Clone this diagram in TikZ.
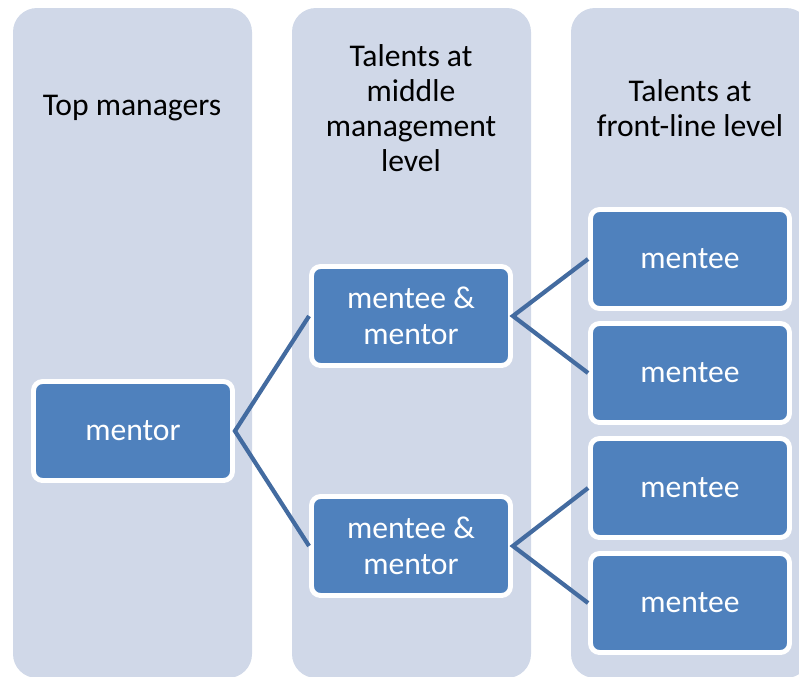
\documentclass[tikz,border=0pt]{standalone}
\usepackage{fontspec}
\setmainfont{Carlito}
\usepackage{tikz}
\usetikzlibrary{positioning}
\definecolor{colbg}{RGB}{208,216,232}
\definecolor{boxblue}{RGB}{79,129,189}
\definecolor{linkblue}{RGB}{67,107,160}

\begin{document}
\begin{tikzpicture}[x=0.02cm,y=-0.02cm,
                    column/.style={fill=colbg, rounded corners=0.48cm},
                    title/.style={align=center, text=black, font=\fontsize{18}{20}\selectfont},
                    box/.style={draw=white, line width=2.8pt, fill=boxblue, rounded corners=0.18cm,
                                minimum width=3.98cm, minimum height=1.98cm, inner sep=0pt,
                                align=center, text=white, font=\fontsize{18}{20.5}\selectfont},
                    link/.style={linkblue, line width=2.4pt},
                   ]

\useasboundingbox (0,0) rectangle (799,677);

% columns
\fill[column] (13,8) rectangle (252,678);
\fill[column] (292,8) rectangle (531,678);
\fill[column] (571,8) rectangle (810,678);

% column titles
\node[title] (toptitle) at (132,108) {Top managers};
\node[title] (midtitle) at (411,108) {Talents at\\middle\\management\\level};
\node[title] (fronttitle) at (690,108) {Talents at\\front-line level};

% boxes
\node[box] (mentor) at (133,431) {mentor};
\node[box] (mm1) at (411,316) {mentee \&\\mentor};
\node[box] (mm2) at (411,546) {mentee \&\\mentor};
\node[box] (mentee1) at (690,259) {mentee};
\node[box] (mentee2) at (690,373) {mentee};
\node[box] (mentee3) at (690,488) {mentee};
\node[box] (mentee4) at (690,603) {mentee};

% links
\draw[link] (mm1.west) -- (mentor.east) -- (mm2.west);
\draw[link] (mentee1.west) -- (mm1.east) -- (mentee2.west);
\draw[link] (mentee3.west) -- (mm2.east) -- (mentee4.west);

\end{tikzpicture}
\end{document}
